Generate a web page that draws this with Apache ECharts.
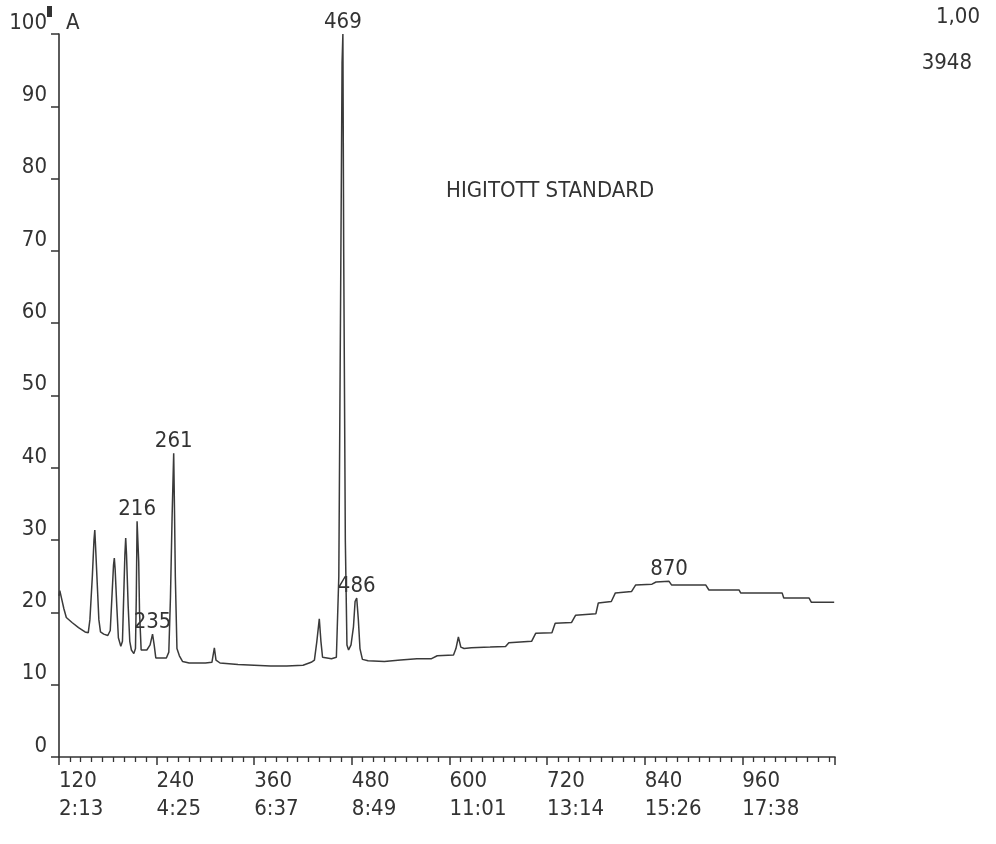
<!DOCTYPE html>
<html>
<head>
<meta charset="utf-8">
<script src="https://cdn.jsdelivr.net/npm/echarts@6/dist/echarts.min.js"></script>
<style>
html,body{margin:0;padding:0;background:#ffffff;}
#chart{width:996px;height:844px;}
</style>
</head>
<body>
<div id="chart"></div>
<script>
// ---- data ----
var traceScans = [120,121,123,126,129,136,144,152,156,
  158,161,163,164,165,167,169,171,175,180,183,
  185,187,188,189,191,193,196,198,
  199,201,202,203,205,207,209,212,214,
  215,216,218,219,221,228,232,235,237,239,252,255,
  257,259,261,262,263,265,268,272,280,300,308,311,313,318,340,360,380,400,420,430,434,
  437,440,442,444,455,
  461,464,466,468,469,470,472,474,476,479,
  482,484,486,488,490,493,500,520,540,560,578,585,605,
  608,611,614,618,627,650,669,673,701,706,726,730,750,755,780,783,799,804,824,829,849,854,870,873,915,919,956,958,1009,1011,1042,1045,1073];
var traceValues = [22.3,23.0,22.0,20.5,19.3,18.6,17.9,17.3,17.2,
  19,25,30,31.4,29,24,19,17.3,17.0,16.8,17.5,
  22,26.5,27.5,26,21,16.5,15.3,16,
  20,28,30.3,28,21,16,14.8,14.3,15,
  22,32.6,27,20,14.8,14.8,15.5,17.0,15.5,13.7,13.7,14.5,
  22,33,42,34,25,15,14.0,13.2,13.0,13.0,13.1,15.1,13.4,13.0,12.8,12.7,12.6,12.6,12.7,13.1,13.4,
  16,19.1,16,13.8,13.6,
  13.8,25,60,96,100,70,30,15.5,14.8,15.5,
  18,21.5,22,19,15,13.5,13.3,13.2,13.4,13.6,13.6,14.0,14.1,
  15,16.6,15.2,15.0,15.1,15.2,15.3,15.8,16.0,17.1,17.2,18.5,18.6,19.6,19.8,21.3,21.5,22.7,22.9,23.8,23.9,24.2,24.3,23.8,23.8,23.1,23.1,22.7,22.7,22.0,22.0,21.4,21.4];
var peakScans = [216,235,261,469,486,870];
var xTickScans = [120,240,360,480,600,720,840,960];
var xTickTimes = ['2:13','4:25','6:37','8:49','11:01','13:14','15:26','17:38'];
var titleText = 'HIGITOTT STANDARD';
var cornerTexts = ['1,00','3948'];

// ---- build ----
var FONT = "'DejaVu Sans Condensed','Liberation Sans Narrow','DejaVu Sans Mono',monospace";
var INK = '#333333';
var trace = traceScans.map(function(s,i){return [s, traceValues[i]];});
var peaks = peakScans.map(function(s){
  var i = traceScans.indexOf(s);
  return [s, traceValues[i]];
});

var chart = echarts.init(document.getElementById('chart'));
chart.setOption({
  backgroundColor:'#ffffff',
  animation:false,
  grid:{left:59, right:161, top:34, bottom:87, containLabel:false},
  xAxis:{
    type:'value', min:120, max:1074, interval:120,
    axisLine:{lineStyle:{color:INK, width:1.6}},
    axisTick:{show:true, length:8, lineStyle:{color:INK, width:1.5}},
    minorTick:{show:true, splitNumber:9, length:5, lineStyle:{color:INK, width:1.3}},
    splitLine:{show:false},
    axisLabel:{
      showMaxLabel:false, align:'left', margin:10,
      fontFamily:FONT, fontSize:22, color:INK, lineHeight:28,
      formatter:function(v){
        var i = xTickScans.indexOf(v);
        if(i<0) return '';
        return v + '\n' + xTickTimes[i];
      }
    }
  },
  yAxis:{
    type:'value', min:0, max:100, interval:10,
    axisLine:{show:true, lineStyle:{color:INK, width:1.6}},
    axisTick:{show:true, length:8, lineStyle:{color:INK, width:1.5}},
    splitLine:{show:false},
    axisLabel:{
      margin:12, verticalAlign:'bottom', fontFamily:FONT, fontSize:22, color:INK
    }
  },
  series:[
    {
      type:'line', data:trace, showSymbol:false, symbol:'none',
      lineStyle:{color:'#3a3a3a', width:1.5}, silent:true, clip:false
    },
    {
      type:'scatter', data:peaks, symbolSize:0, silent:true,
      itemStyle:{opacity:1, color:INK},
      label:{show:true, position:'top', distance:1, fontFamily:FONT, fontSize:22, color:INK, opacity:1,
        formatter:function(p){return String(p.value[0]);}}
    }
  ],
  graphic:[
    {type:'text', left:446, top:180, style:{text:titleText, font:"22px "+FONT, fill:INK}},
    {type:'text', right:16, top:6, style:{text:cornerTexts[0], font:"22px "+FONT, fill:INK}},
    {type:'text', right:24, top:52, style:{text:cornerTexts[1], font:"22px "+FONT, fill:INK}},
    {type:'rect', shape:{x:47, y:6, width:5, height:11}, style:{fill:INK}},
    {type:'text', left:66, top:12, style:{text:'A', font:"22px "+FONT, fill:INK}}
  ]
});
</script>
</body>
</html>
